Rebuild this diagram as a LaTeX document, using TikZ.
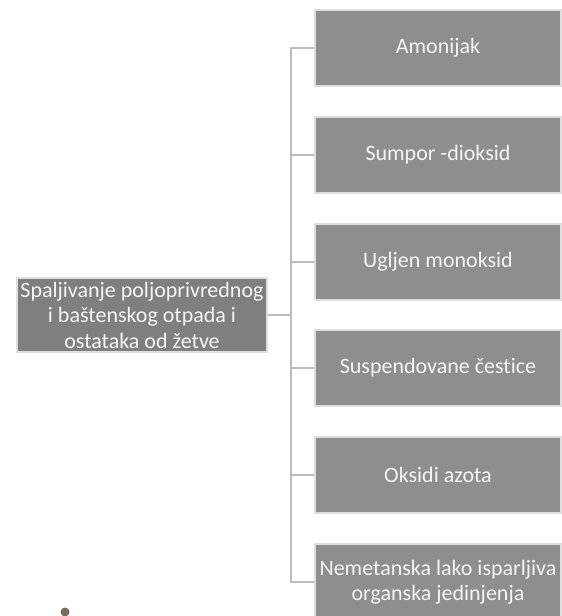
\documentclass[tikz,border=0pt]{standalone}
\usepackage{fontspec}
\setmainfont{Carlito}[Ligatures=NoCommon]
\usepackage{xcolor}
\usetikzlibrary{positioning}
\definecolor{boxgray}{HTML}{8E8E8E}
\definecolor{srcgray}{HTML}{7F7F7F}
\definecolor{linkgray}{HTML}{BDBDBD}
\definecolor{dotbrown}{HTML}{76695F}

\begin{document}
\begin{tikzpicture}[x=1pt,y=-1pt,
    box/.style={draw=gray!25, line width=1.2pt, fill=boxgray, text=white!92!gray,
      font=\fontsize{22}{25.5}\selectfont, align=center, inner sep=0pt,
      minimum width=246pt, minimum height=76pt},
    link/.style={draw=linkgray, line width=2pt}]
\useasboundingbox (0,0) rectangle (562,616);
% source
\node[box, fill=srcgray, minimum width=250pt, minimum height=74pt] (src) at (142,315)
  {Spaljivanje poljoprivrednog\\i baštenskog otpada i\\ostataka od žetve};
% products
\node[box] (amonijak) at (438,48) {Amonijak};
\node[box] (sumpor) at (438,155) {Sumpor -dioksid};
\node[box] (ugljen) at (438,262) {Ugljen monoksid};
\node[box] (cestice) at (438,368) {Suspendovane čestice};
\node[box] (azot) at (438,475) {Oksidi azota};
\node[box] (voc) at (438,582) {Nemetanska lako isparljiva\\organska jedinjenja};
% connectors
\coordinate (bus) at (291,315);
\draw[link] (src.east) -- (bus);
\draw[link] (amonijak.west) -- (amonijak.west -| bus) -- (voc.west -| bus) -- (voc.west);
\draw[link] (sumpor.west -| bus) -- (sumpor.west);
\draw[link] (ugljen.west -| bus) -- (ugljen.west);
\draw[link] (cestice.west -| bus) -- (cestice.west);
\draw[link] (azot.west -| bus) -- (azot.west);
% stray bullet
\fill[dotbrown] (65,612) circle (4.5);
\end{tikzpicture}
\end{document}
